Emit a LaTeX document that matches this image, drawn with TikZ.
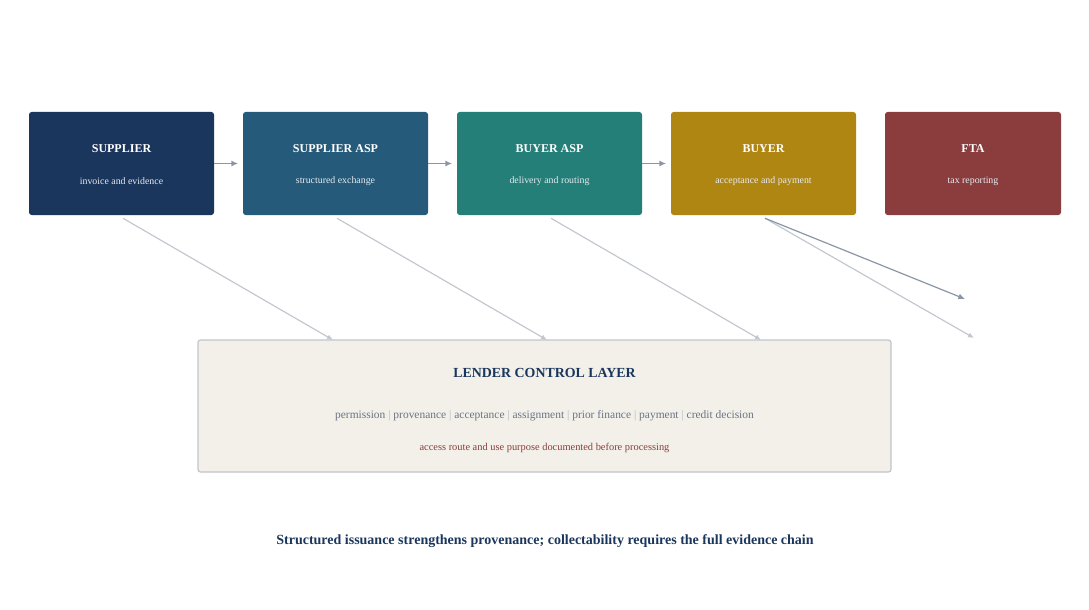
\documentclass[tikz,border=0pt]{standalone}
\usepackage{fontspec}
\setmainfont{Liberation Serif}
\usepackage{xcolor}
\usetikzlibrary{arrows.meta,calc,positioning}

\definecolor{navy}{HTML}{1B365D}
\definecolor{steel}{HTML}{255A7B}
\definecolor{teal}{HTML}{237F78}
\definecolor{ochre}{HTML}{B08613}
\definecolor{brick}{HTML}{8B3D3D}
\definecolor{cream}{HTML}{F2F0E9}
\definecolor{rim}{HTML}{C0C4CC}
\definecolor{flowgray}{HTML}{8A96A6}
\definecolor{feedgray}{HTML}{C3C7CE}
\definecolor{txtgray}{HTML}{6B7385}
\definecolor{pipegray}{HTML}{B4B9C2}
\definecolor{subwhite}{HTML}{E6EAF0}

\tikzstyle{stage}=[rectangle, rounded corners=2pt, minimum height=77.25pt, inner sep=0pt]
\tikzstyle{flow}=[draw=flowgray, line width=0.9pt, -{Latex[length=5pt,width=4.5pt]}]
\tikzstyle{feed}=[draw=feedgray, line width=0.9pt, -{Latex[length=4.5pt,width=4pt]}]
\newcommand{\stagebox}[6]{
	\node[stage, fill=#3, minimum width=#6] (#1) at (#2,163.5) {};
	\node[text=white, font=\bfseries\fontsize{9}{11}\selectfont] (#1-t) at ($(#1.center)+(0,-14.5)$) {#4};
	\node[text=subwhite, font=\fontsize{7.4}{9}\selectfont] (#1-s) at ($(#1.center)+(0,18)$) {#5};
}
\newcommand{\sep}{\textcolor{pipegray}{~|~}}

\begin{document}
\begin{tikzpicture}[x=0.75pt, y=-0.75pt]
	\useasboundingbox (0,0) rectangle (1089,610);
%
	\stagebox{supplier}{121.5}{navy}{SUPPLIER}{invoice and evidence}{138.75pt}
	\stagebox{sasp}{335.5}{steel}{SUPPLIER ASP}{structured exchange}{138.75pt}
	\stagebox{basp}{549.5}{teal}{BUYER ASP}{delivery and routing}{138.75pt}
	\stagebox{buyer}{763.5}{ochre}{BUYER}{acceptance and payment}{138.75pt}
	\stagebox{fta}{973}{brick}{FTA}{tax reporting}{132pt}
%
	\draw[flow, shorten >=3.5pt] (supplier.east) -- (sasp.west);
	\draw[flow, shorten >=3.5pt] (sasp.east) -- (basp.west);
	\draw[flow, shorten >=3.5pt] (basp.east) -- (buyer.west);
%
	\node[draw=rim, fill=cream, line width=0.9pt, rounded corners=2pt, minimum width=519.75pt, minimum height=99pt] (lender) at (544.5,406) {};
	\node[text=navy, font=\bfseries\fontsize{10.4}{13}\selectfont] (lender-t) at (544.5,373) {LENDER CONTROL LAYER};
	\node[text=txtgray, font=\fontsize{8.6}{11}\selectfont] (lender-m) at (544.5,415.5)
		{permission\sep provenance\sep acceptance\sep assignment\sep prior finance\sep payment\sep credit decision};
	\node[text=brick, font=\fontsize{7.8}{9}\selectfont] (lender-r) at (544.5,447.5) {access route and use purpose documented before processing};
%
	\coordinate (in1) at (333,340);
	\coordinate (in2) at (547,340);
	\coordinate (in3) at (761,340);
	\coordinate (ftain) at (974,338);
	\coordinate (ftatax) at (965,299);
	\draw[feed] ($(supplier.south)+(1.5,3)$) -- (in1);
	\draw[feed] ($(sasp.south)+(1.5,3)$) -- (in2);
	\draw[feed] ($(basp.south)+(1.5,3)$) -- (in3);
	\draw[feed] ($(buyer.south)+(1.5,3)$) -- (ftain);
	\draw[flow] ($(buyer.south)+(1.5,3)$) -- (ftatax);
%
	\node[text=navy, font=\bfseries\fontsize{10.5}{13}\selectfont] (caption) at (545,541.5)
		{Structured issuance strengthens provenance; collectability requires the full evidence chain};
\end{tikzpicture}
\end{document}
